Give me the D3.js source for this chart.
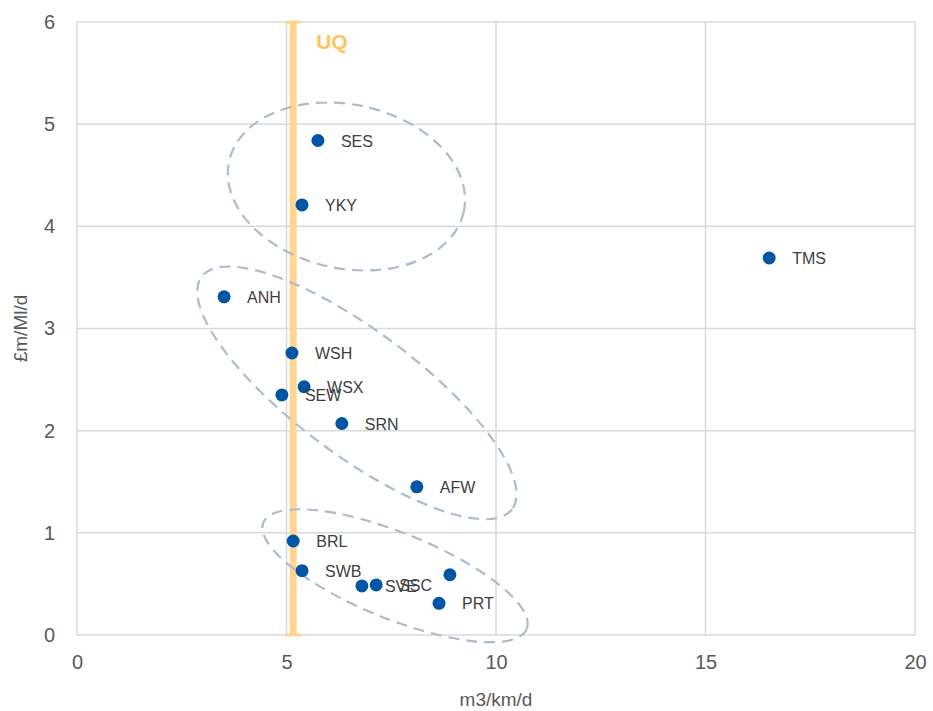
<!DOCTYPE html>
<html><head><meta charset="utf-8">
<script src="https://cdnjs.cloudflare.com/ajax/libs/d3/7.8.5/d3.min.js"></script>
<style>body{margin:0;background:#fff}svg{display:block;font-family:"Liberation Sans",Arial,sans-serif}</style>
</head><body><svg id="c" width="933" height="711"></svg>
<script>
const labels = ["SES","YKY","TMS","ANH","WSH","WSX","SEW","SRN","AFW","BRL","SWB","SVE","SSC","","PRT"];
const xValues = [5.75,5.37,16.52,3.51,5.13,5.42,4.89,6.32,8.11,5.16,5.37,6.80,7.14,8.90,8.64];
const yValues = [4.84,4.21,3.69,3.31,2.76,2.43,2.35,2.07,1.45,0.92,0.63,0.48,0.49,0.59,0.31];
const xTicks = [0,5,10,15,20];
const yTicks = [0,1,2,3,4,5,6];
const uqValue = 5.16;
// grouping ellipses in data coordinates: centre x, centre y, semi-axes in px, rotation
const groups = [
  {cx:6.43, cy:4.39, rx:120, ry:82, rot:12},
  {cx:6.68, cy:2.37, rx:194, ry:62, rot:36.8},
  {cx:7.59, cy:0.58, rx:142, ry:43, rot:22}
];

const svg = d3.select("#c");
const L=77, R=915, T=22, B=635;
const x = d3.scaleLinear().domain([0,20]).range([L,R]);
const y = d3.scaleLinear().domain([0,6]).range([B,T]);

// gridlines
svg.append("g").selectAll("line").data(xTicks).join("line")
  .attr("x1",d=>x(d)).attr("x2",d=>x(d)).attr("y1",T).attr("y2",B)
  .attr("stroke","#D9D9D9").attr("stroke-width",1.5);
svg.append("g").selectAll("line").data(yTicks).join("line")
  .attr("x1",L).attr("x2",R).attr("y1",d=>y(d)).attr("y2",d=>y(d))
  .attr("stroke","#D9D9D9").attr("stroke-width",1.5);

// axes labels
const xa = svg.append("g").attr("transform",`translate(0,${B})`)
  .call(d3.axisBottom(x).tickValues(xTicks).tickFormat(d3.format("d")).tickSize(0).tickPadding(20));
const ya = svg.append("g").attr("transform",`translate(${L},0)`)
  .call(d3.axisLeft(y).tickValues(yTicks).tickFormat(d3.format("d")).tickSize(0).tickPadding(22));
[xa,ya].forEach(a=>{a.select(".domain").remove();
  a.selectAll("text").attr("fill","#595959").style("font-size","20px").style("font-family","'Liberation Sans',Arial,sans-serif");});

svg.append("text").attr("x",496).attr("y",706).attr("text-anchor","middle")
  .attr("fill","#595959").style("font-size","19px").text("m3/km/d");
svg.append("text").attr("transform",`translate(27,${(T+B)/2}) rotate(-90)`).attr("text-anchor","middle")
  .attr("fill","#595959").style("font-size","19px").text("£m/Ml/d");

// UQ line
const uq = svg.append("g");
uq.append("line").attr("x1",x(uqValue)).attr("x2",x(uqValue)).attr("y1",T).attr("y2",B)
  .attr("stroke","#FFD591").attr("stroke-width",7);
[T,B].forEach(v=>uq.append("line").attr("x1",x(uqValue)-7).attr("x2",x(uqValue)+7)
  .attr("y1",v).attr("y2",v).attr("stroke","#FFD591").attr("stroke-width",3).attr("stroke-linecap","round"));
svg.append("text").attr("x",x(uqValue)+23).attr("y",49).attr("fill","#FFC35C")
  .style("font-size","21px").style("font-weight","bold").text("UQ");

// ellipses
svg.append("g").selectAll("ellipse").data(groups).join("ellipse")
  .attr("transform",d=>`translate(${x(d.cx)},${y(d.cy)}) rotate(${d.rot})`)
  .attr("rx",d=>d.rx).attr("ry",d=>d.ry)
  .attr("fill","none").attr("stroke","#ADBCCB").attr("stroke-width",2.2).attr("stroke-dasharray","11,7");

// points
const pts = labels.map((l,i)=>({l,x:xValues[i],y:yValues[i]}));
svg.append("g").selectAll("circle").data(pts).join("circle")
  .attr("cx",d=>x(d.x)).attr("cy",d=>y(d.y)).attr("r",6.5).attr("fill","#0055A5");
svg.append("g").selectAll("text").data(pts).join("text")
  .attr("x",d=>x(d.x)+23).attr("y",d=>y(d.y)+6).attr("fill","#404040")
  .style("font-size","16px").text(d=>d.l);
</script></body></html>
